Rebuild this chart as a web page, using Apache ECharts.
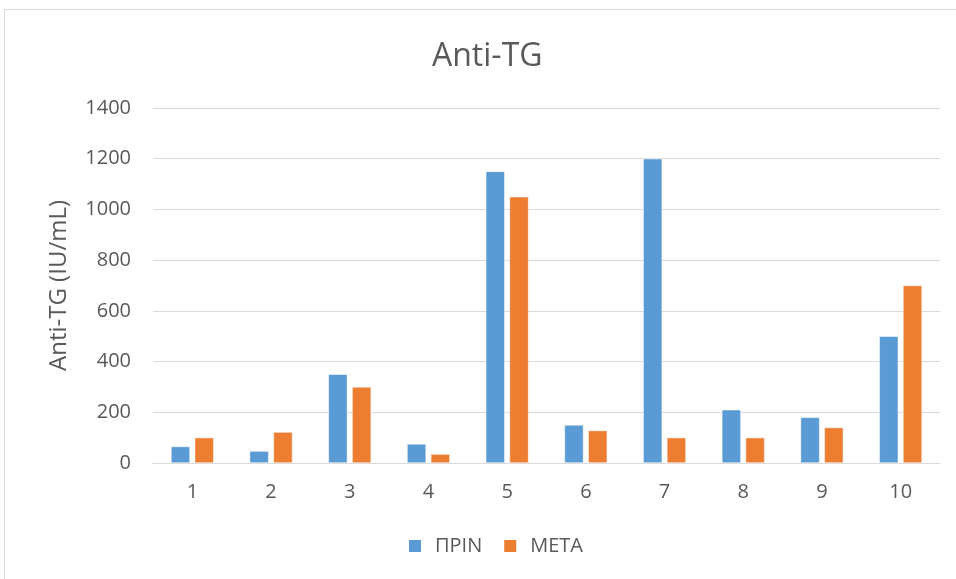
<!DOCTYPE html>
<html>
<head>
<meta charset="utf-8">
<script src="https://cdn.jsdelivr.net/npm/echarts@6/dist/echarts.min.js"></script>
<style>
  html, body { margin: 0; padding: 0; background: #fff; }
  #chart { width: 956px; height: 579px; }
</style>
</head>
<body>
<div id="chart"></div>
<script>
// Patient numbers along the x axis
const categories = ['1', '2', '3', '4', '5', '6', '7', '8', '9', '10'];
// Anti-TG values (IU/mL) before and after
const seriesBefore = [65, 47, 350, 75, 1150, 150, 1200, 210, 180, 500];
const seriesAfter = [100, 122, 300, 35, 1050, 128, 100, 100, 140, 700];
const seriesNames = ['ΠΡΙΝ', 'ΜΕΤΑ'];
const yTicks = { min: 0, max: 1400, interval: 200 };

const font = '"Open Sans", sans-serif';
const textColor = '#595959';

const chart = echarts.init(document.getElementById('chart'));
chart.setOption({
  animation: false,
  backgroundColor: '#fff',
  textStyle: { fontFamily: font },
  graphic: [{
    type: 'rect',
    shape: { x: 4.5, y: 9.5, width: 960, height: 600 },
    style: { fill: 'none', stroke: '#d9d9d9', lineWidth: 1 },
    silent: true
  }],
  title: {
    text: 'Anti-TG',
    left: 427,
    top: 36,
    textStyle: { fontFamily: font, fontSize: 32, fontWeight: 'normal', color: textColor }
  },
  legend: {
    data: seriesNames,
    bottom: 18,
    left: 402,
    itemWidth: 14,
    itemHeight: 14,
    itemGap: 20,
    icon: 'rect',
    textStyle: { fontFamily: font, fontSize: 20, color: textColor, padding: [0, 0, 0, 8] }
  },
  grid: { left: 153, right: 16, top: 108, bottom: 116, containLabel: false },
  xAxis: {
    type: 'category',
    data: categories,
    axisLine: { lineStyle: { color: '#d9d9d9', width: 1 } },
    axisTick: { show: false },
    axisLabel: { fontFamily: font, fontSize: 20, color: textColor, margin: 19 }
  },
  yAxis: {
    type: 'value',
    min: yTicks.min,
    max: yTicks.max,
    interval: yTicks.interval,
    name: 'Anti-TG (IU/mL)',
    nameLocation: 'middle',
    nameGap: 82,
    nameTextStyle: { fontFamily: font, fontSize: 24, color: textColor },
    axisLine: { show: false },
    axisTick: { show: false },
    axisLabel: { fontFamily: font, fontSize: 20, color: textColor, margin: 22, formatter: v => String(v) },
    splitLine: { lineStyle: { color: '#d9d9d9', width: 1 } }
  },
  series: [
    {
      name: seriesNames[0],
      type: 'bar',
      data: seriesBefore,
      barWidth: 19,
      barGap: '25%',
      itemStyle: { color: '#5b9bd5', borderColor: '#fff', borderWidth: 0.5 }
    },
    {
      name: seriesNames[1],
      type: 'bar',
      data: seriesAfter,
      barWidth: 19,
      barGap: '25%',
      itemStyle: { color: '#ed7d31', borderColor: '#fff', borderWidth: 0.5 }
    }
  ]
});
</script>
</body>
</html>
